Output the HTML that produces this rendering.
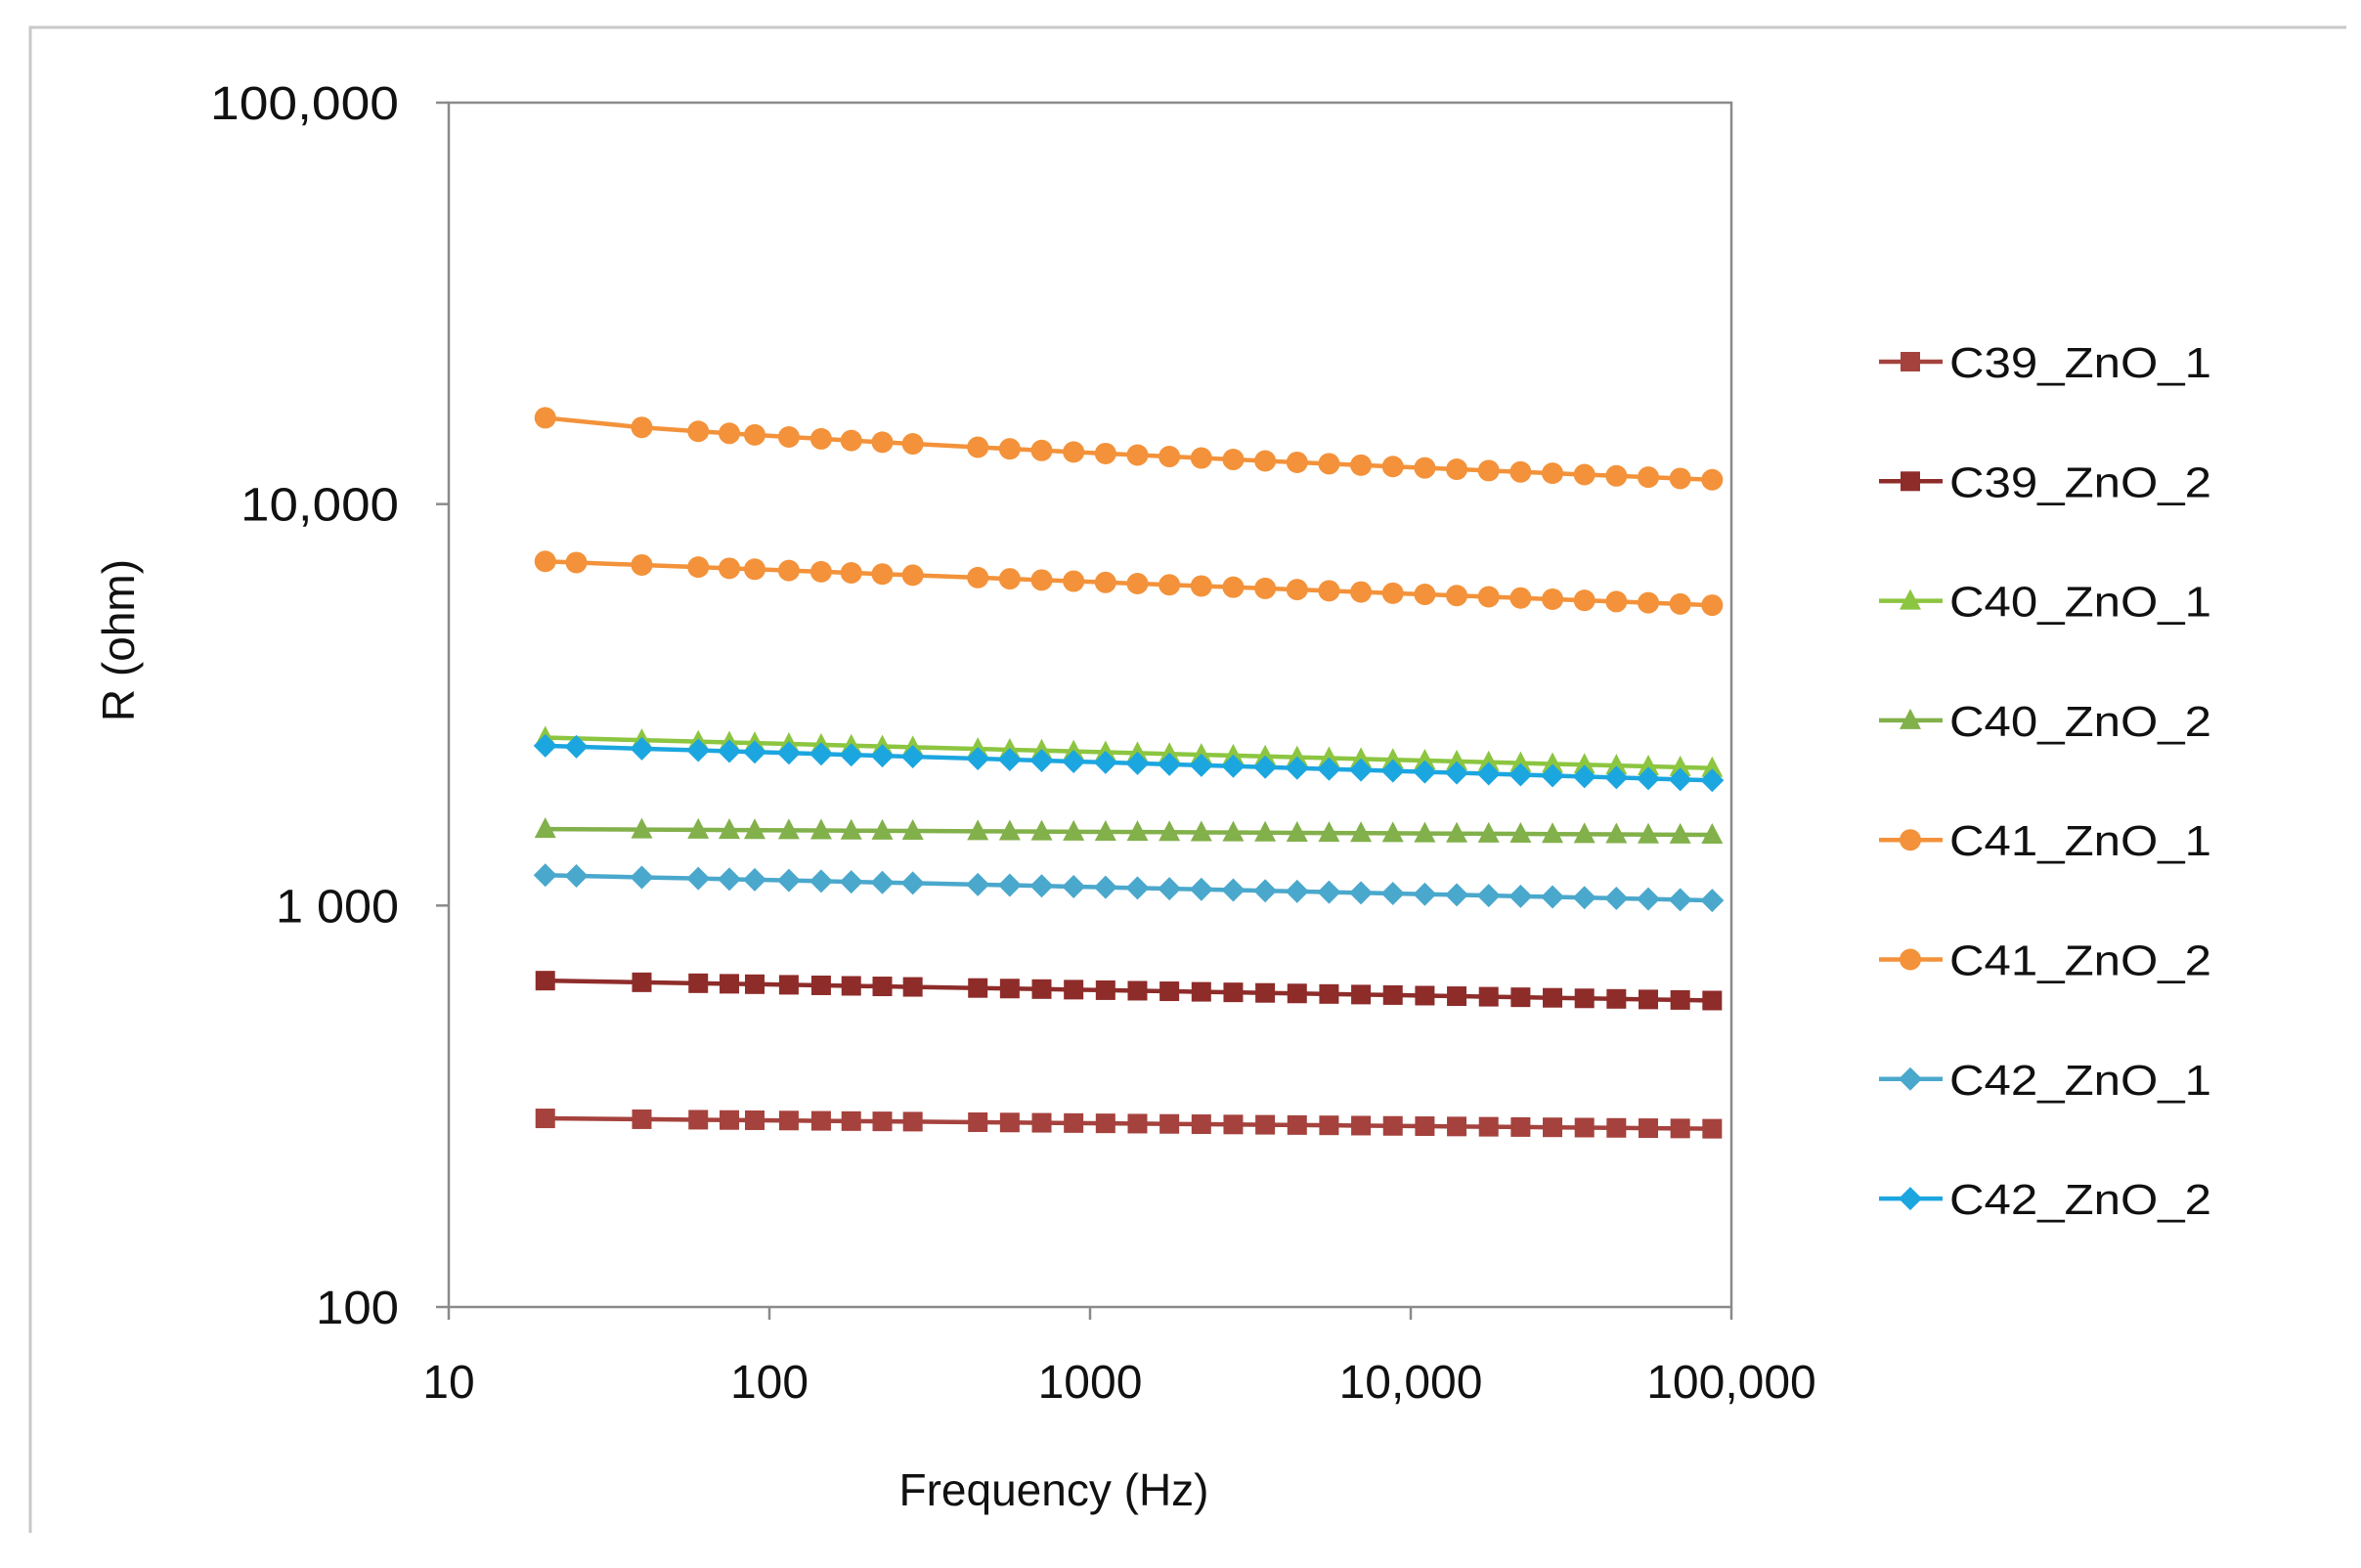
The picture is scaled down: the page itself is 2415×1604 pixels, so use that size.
<!DOCTYPE html>
<html><head><meta charset="utf-8"><style>html,body{margin:0;padding:0;background:#fff}svg{display:block}</style></head>
<body>
<svg id="s" width="2415" height="1604" xmlns="http://www.w3.org/2000/svg" font-family="'Liberation Sans', sans-serif">
<rect x="0" y="0" width="2415" height="1604" fill="#fff"/>
<path d="M31 1568 V28 H2400" fill="none" stroke="#c8c8c8" stroke-width="3"/>
<rect x="459" y="105" width="1312" height="1232" fill="none" stroke="#8a8a8a" stroke-width="2.5"/>
<g id="ax" stroke="#8a8a8a" stroke-width="2.5"></g>
<g id="lbl" font-size="48" fill="#111"></g>
<g id="ser"></g>
<g id="leg" font-size="44" fill="#111"></g>
<text x="1078" y="1540" font-size="46" text-anchor="middle" fill="#111">Frequency (Hz)</text>
<text transform="translate(137,655) rotate(-90)" font-size="46" text-anchor="middle" fill="#111">R  (ohm)</text>
</svg>
<script>
var NS="http://www.w3.org/2000/svg";
function el(p,t,a,txt){var e=document.createElementNS(NS,t);for(var k in a)e.setAttribute(k,a[k]);if(txt)e.textContent=txt;p.appendChild(e);return e;}
var L=459,R=1771,T=105,B=1337;
function X(f){return L+(Math.log10(f)-1)*(R-L)/4;}
function Y(v){return B-(Math.log10(v)-2)*(B-T)/3;}
var ax=document.getElementById('ax'),lbl=document.getElementById('lbl');
var yl=['100','1 000','10,000','100,000'],yw=[85,126,162,193];
for(var i=0;i<4;i++){var y=B-i*(B-T)/3;el(ax,'line',{x1:446,x2:459,y1:y,y2:y});el(lbl,'text',{x:408,y:y+17,'text-anchor':'end',textLength:yw[i],lengthAdjust:'spacingAndGlyphs'},yl[i]);}
var xl=['10','100','1000','10,000','100,000'];
for(var i=0;i<5;i++){var x=L+i*(R-L)/4;el(ax,'line',{x1:x,x2:x,y1:B,y2:B+13});el(lbl,'text',{x:x,y:1430,'text-anchor':'middle'},xl[i]);}
var fr=[20,40,60,75,90,115,145,180,225,280];
for(var i=0;i<24;i++)fr.push(Math.pow(10,2.65+i*(4.94-2.65)/23));
var fr2=[20,25,40,60,75,90,115,145,180,225,280];
for(var i=0;i<24;i++)fr2.push(Math.pow(10,2.65+i*(4.94-2.65)/23));
var S=[
 {n:'C39_ZnO_1',c:'#a5423d',m:'s',v0:295,v1:278,f:fr},
 {n:'C39_ZnO_2',c:'#8e2c2a',m:'s',v0:650,v1:580,f:fr},
 {n:'C40_ZnO_1',c:'#8cc540',m:'t',v0:2620,v1:2200,f:fr},
 {n:'C40_ZnO_2',c:'#82b04a',m:'t',v0:1550,v1:1500,f:fr},
 {n:'C41_ZnO_1',c:'#f3923a',m:'c',v0:16400,v1:11500,f:fr,cur:1},
 {n:'C41_ZnO_2',c:'#f3923a',m:'c',v0:7200,v1:5600,f:fr2},
 {n:'C42_ZnO_1',c:'#4aa8cc',m:'d',v0:1190,v1:1030,f:fr2},
 {n:'C42_ZnO_2',c:'#1ba6e0',m:'d',v0:2500,v1:2050,f:fr2}
];
function mark(g,m,x,y,c){
 if(m=='s')el(g,'rect',{x:x-10,y:y-10,width:20,height:20,fill:c});
 else if(m=='c')el(g,'circle',{cx:x,cy:y,r:11,fill:c});
 else if(m=='t')el(g,'polygon',{points:(x)+','+(y-12)+' '+(x+11)+','+(y+9)+' '+(x-11)+','+(y+9),fill:c});
 else el(g,'polygon',{points:x+','+(y-12)+' '+(x+12)+','+y+' '+x+','+(y+12)+' '+(x-12)+','+y,fill:c});
}
var sg=document.getElementById('ser'),lg=document.getElementById('leg');
S.forEach(function(s,idx){
 var pts=[],ln=Math.log10(87000/20);
 s.f.forEach(function(f){var t=Math.log10(f/20)/ln;if(s.cur)t=Math.pow(t,0.75);var v=s.v0*Math.pow(s.v1/s.v0,t);pts.push([X(f),Y(v)]);});
 el(sg,'polyline',{points:pts.map(function(p){return p.join(',')}).join(' '),fill:'none',stroke:s.c,'stroke-width':4.5});
 pts.forEach(function(p){mark(sg,s.m,p[0],p[1],s.c);});
 var y=370+idx*122.3;
 el(lg,'line',{x1:1922,x2:1987,y1:y,y2:y,stroke:s.c,'stroke-width':4.5});
 mark(lg,s.m,1954,y,s.c);
 el(lg,'text',{x:1994,y:y+16,textLength:268,lengthAdjust:'spacingAndGlyphs'},s.n);
});
</script>
</body></html>
